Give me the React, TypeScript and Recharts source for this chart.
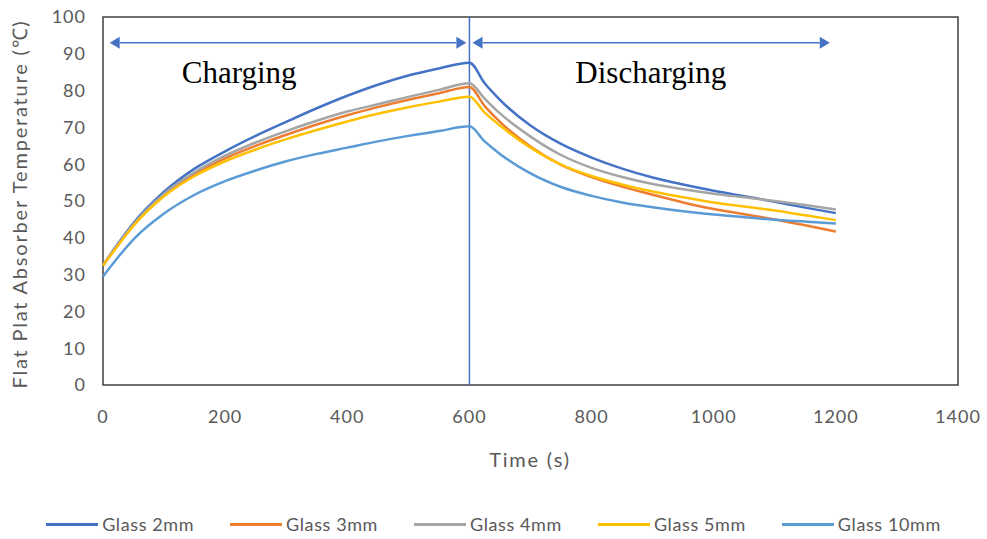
import React from 'react'
import { LineChart, Line, XAxis, YAxis, ReferenceLine, ReferenceArea, ReferenceDot } from 'recharts'

// time in seconds, charging until 600 s, discharging after
const times = [0, 25, 50, 100, 150, 200, 250, 300, 350, 400, 450, 500, 550, 600, 625, 650, 700, 750, 800, 850, 900, 950, 1000, 1050, 1100, 1150, 1200]

const glass2mm = [32.5, 38.5, 44, 52.5, 58.8, 63.5, 67.7, 71.5, 75.2, 78.6, 81.6, 84.1, 86, 87.6, 82, 77.5, 70.5, 65.5, 61.8, 58.8, 56.4, 54.5, 52.8, 51.3, 49.8, 48.2, 46.7]
const glass3mm = [32.5, 38.2, 43.5, 51.6, 57.3, 61.6, 65, 68, 70.8, 73.3, 75.5, 77.5, 79.3, 81, 75.8, 71.5, 64.8, 59.8, 56.5, 53.9, 51.7, 49.6, 47.8, 46.4, 45, 43.4, 41.7]
const glass4mm = [32.5, 38.3, 43.7, 52, 57.8, 62.3, 65.9, 69, 71.8, 74.3, 76.3, 78.3, 80.2, 82, 77.8, 73.8, 67.5, 62.5, 59, 56.5, 54.6, 53.2, 52, 51, 50, 48.9, 47.7]
const glass5mm = [32.5, 38, 43.3, 51.3, 56.8, 60.8, 64, 66.8, 69.3, 71.6, 73.7, 75.5, 77, 78.3, 74, 70.5, 64.5, 59.9, 56.8, 54.5, 52.6, 51, 49.6, 48.5, 47.4, 46.1, 44.8]
const glass10mm = [29.5, 34.8, 39.6, 46.6, 51.7, 55.4, 58.3, 60.8, 62.8, 64.5, 66.2, 67.7, 69, 70.3, 66.2, 62.8, 57.5, 53.8, 51.4, 49.6, 48.3, 47.2, 46.3, 45.6, 44.9, 44.4, 43.9]

const xTicks = [0, 200, 400, 600, 800, 1000, 1200, 1400]
const yTicks = [0, 10, 20, 30, 40, 50, 60, 70, 80, 90, 100]

const series = [
  { key: 'g2', name: 'Glass 2mm', color: '#4472C4' },
  { key: 'g3', name: 'Glass 3mm', color: '#ED7D31' },
  { key: 'g4', name: 'Glass 4mm', color: '#A5A5A5' },
  { key: 'g5', name: 'Glass 5mm', color: '#FFC000' },
  { key: 'g10', name: 'Glass 10mm', color: '#5B9BD5' },
]

const data = times.map((t, i) => ({
  time: t,
  g2: glass2mm[i],
  g3: glass3mm[i],
  g4: glass4mm[i],
  g5: glass5mm[i],
  g10: glass10mm[i],
}))

const FONT = 'Lato, "Open Sans", sans-serif'
const GREY = '#595959'
const ARROW = '#4472C4'

const Arrow = (props: any) => {
  const { x1, y1, x2, y2 } = props
  const h = 10
  const w = 6
  return (
    <g>
      <line x1={x1 + h} y1={y1} x2={x2 - h} y2={y2} stroke={ARROW} strokeWidth={1.5} />
      <polygon points={`${x1},${y1} ${x1 + h},${y1 - w} ${x1 + h},${y1 + w}`} fill={ARROW} />
      <polygon points={`${x2},${y2} ${x2 - h},${y2 - w} ${x2 - h},${y2 + w}`} fill={ARROW} />
    </g>
  )
}

const phaseLabel = (text: string) => (props: any) => (
  <text x={props.cx} y={props.cy} textAnchor="middle" fontFamily='"Liberation Serif", "Times New Roman", serif' fontSize={31} fill="#000">
    {text}
  </text>
)

export default function App() {
  return (
    <div style={{ position: 'absolute', left: 0, top: 0, width: 987, height: 539, background: '#fff' }}>
      <LineChart width={987} height={539} data={data} margin={{ top: 17, right: 29, left: 0, bottom: 124 }}>
        <XAxis
          type="number"
          dataKey="time"
          domain={[0, 1400]}
          ticks={xTicks}
          height={30}
          axisLine={false}
          tickLine={false}
          tickMargin={19}
          tick={{ fill: GREY, fontSize: 18, fontFamily: FONT, letterSpacing: 1 }}
          label={{
            content: () => (
              <text x={530} y={467} textAnchor="middle" fill={GREY} fontSize={20} letterSpacing={1.8} fontFamily={FONT}>
                Time (s)
              </text>
            ),
          }}
        />
        <YAxis
          type="number"
          domain={[0, 100]}
          ticks={yTicks}
          width={103}
          axisLine={false}
          tickLine={false}
          tickMargin={11}
          tick={{ fill: GREY, fontSize: 18, fontFamily: FONT, letterSpacing: 1 }}
          label={{
            content: (p: any) => {
              const cy = p.viewBox.y + p.viewBox.height / 2 + 3
              return (
                <text x={27} y={cy} transform={`rotate(-90, 27, ${cy})`} textAnchor="middle" fill={GREY} fontSize={20} letterSpacing={1.8} fontFamily={FONT}>
                  Flat Plat Absorber Temperature (℃)
                </text>
              )
            },
          }}
        />
        <ReferenceArea x1={0} x2={1400} y1={0} y2={100} fill="none" stroke="#404040" strokeWidth={1.5} />
        <ReferenceLine x={600} stroke={ARROW} strokeWidth={1.5} />
        <ReferenceLine segment={[{ x: 11, y: 93 }, { x: 595, y: 93 }]} shape={Arrow} />
        <ReferenceLine segment={[{ x: 605, y: 93 }, { x: 1190, y: 93 }]} shape={Arrow} />
        <ReferenceDot x={223} y={82} shape={phaseLabel('Charging')} />
        <ReferenceDot x={897} y={82} shape={phaseLabel('Discharging')} />
        {series.map((s) => (
          <Line
            key={s.key}
            type="monotone"
            dataKey={s.key}
            name={s.name}
            stroke={s.color}
            strokeWidth={2.5}
            dot={false}
            isAnimationActive={false}
          />
        ))}
      </LineChart>
      <div
        style={{
          position: 'absolute',
          left: 0,
          top: 513,
          width: 987,
          display: 'flex',
          justifyContent: 'center',
          gap: 36,
          fontFamily: FONT,
          fontSize: 18,
          letterSpacing: 0.6,
          color: GREY,
        }}
      >
        {series.map((s) => (
          <div key={s.key} style={{ display: 'flex', alignItems: 'center' }}>
            <span style={{ display: 'inline-block', width: 52, height: 3, background: s.color, marginRight: 4 }} />
            <span>{s.name}</span>
          </div>
        ))}
      </div>
    </div>
  )
}
